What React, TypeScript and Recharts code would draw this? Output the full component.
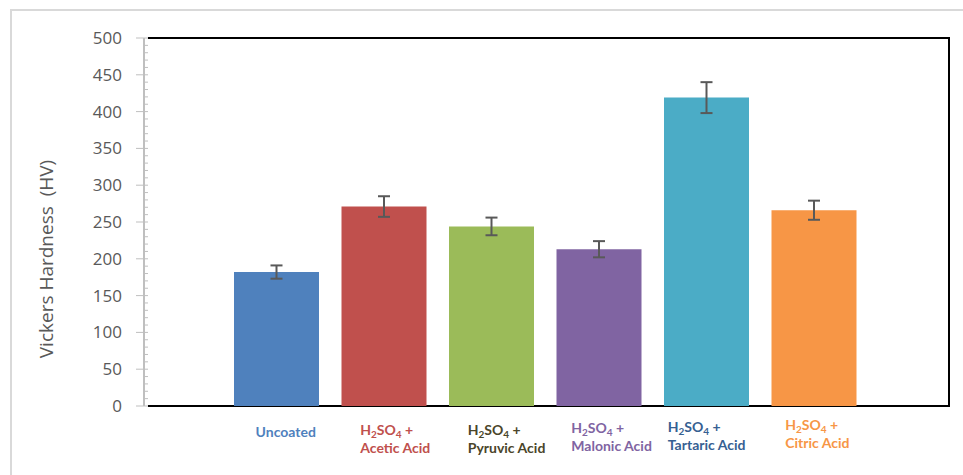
import React from 'react';
import { BarChart, Bar, XAxis, YAxis, Cell, ErrorBar, ReferenceArea } from 'recharts';

const categories = ['Uncoated', 'Acetic Acid', 'Pyruvic Acid', 'Malonic Acid', 'Tartaric Acid', 'Citric Acid'];
const hardness = [182, 271, 244, 213, 419, 266];
const hardnessErr = [9, 14, 12, 11, 21, 13];
const barColors = ['#4f81bd', '#c0504d', '#9bbb59', '#8064a2', '#4bacc6', '#f79646'];
const labelColors = ['#4f81bd', '#c0504d', '#4a452a', '#8064a2', '#366092', '#f79646'];

// minor ticks every 10 HV, labels every 50
const minorTicks: number[] = [];
for (let v = 0; v <= 500; v += 10) minorTicks.push(v);

const data = categories.map((name, i) => ({
  name,
  hv: hardness[i],
  err: hardnessErr[i],
}));

const AXIS_X = 144;
const PAD_L = 79;
const PAD_R = 81;
// shift of each label block relative to bar center (Excel-ish placement)
const labelShift = [9, -24, -24, -28, -39, -29];
const labelBase = [437, 435, 435, 433, 432, 430];

const YTick = (props: any) => {
  const { y, payload } = props;
  const v = payload.value;
  const major = v % 50 === 0;
  return (
    <g>
      <line
        x1={major ? AXIS_X - 8 : AXIS_X}
        x2={AXIS_X + 4}
        y1={y}
        y2={y}
        stroke="#bfbfbf"
        strokeWidth={1}
      />
      {major && (
        <text x={122} y={y + 6} textAnchor="end" fill="#595959" fontSize={17} fontFamily="'Open Sans', sans-serif">
          {v}
        </text>
      )}
    </g>
  );
};

const XTick = (props: any) => {
  const { x, payload } = props;
  const i = payload.index;
  const color = labelColors[i];
  const font = { fontFamily: 'Lato, sans-serif', fontWeight: 700, fontSize: 14, fill: color };
  if (i === 0) {
    return (
      <text x={x + labelShift[0]} y={labelBase[0]} textAnchor="middle" {...font}>
        {payload.value}
      </text>
    );
  }
  const sx = x + labelShift[i];
  const base = labelBase[i];
  return (
    <g>
      <text x={sx} y={base} textAnchor="start" {...font}>
        H<tspan fontSize={10} dy={3}>2</tspan>
        <tspan dy={-3}>SO</tspan>
        <tspan fontSize={10} dy={3}>4</tspan>
        <tspan dy={-3}> +</tspan>
      </text>
      <text x={sx} y={base + 18} textAnchor="start" {...font}>
        {payload.value}
      </text>
    </g>
  );
};

// black box round the plot area (left side is the grey value axis)
const PlotFrame = (props: any) => {
  const { x, y, width, height } = props;
  const left = x - PAD_L + 4;
  const right = x + width + PAD_R;
  return (
    <path
      d={`M${left},${y} L${right},${y} L${right},${y + height} L${left},${y + height}`}
      fill="none"
      stroke="#000"
      strokeWidth={2}
    />
  );
};

export default function App() {
  return (
    <div style={{ position: 'absolute', left: 0, top: 0, width: 963, height: 475, background: '#fff' }}>
      <div
        style={{
          position: 'absolute',
          left: 10,
          top: 9,
          width: 953,
          height: 466,
          borderTop: '2px solid #d9d9d9',
          borderLeft: '2px solid #d9d9d9',
        }}
      />
      <div style={{ position: 'absolute', left: 0, top: 0 }}>
        <BarChart
          width={963}
          height={475}
          data={data}
          margin={{ top: 38, right: 14, bottom: 0, left: 0 }}
          barSize={85}
        >
          <ReferenceArea y1={0} y2={500} ifOverflow="visible" shape={<PlotFrame />} />
          <XAxis
            dataKey="name"
            axisLine={false}
            tickLine={false}
            interval={0}
            height={69}
            padding={{ left: PAD_L, right: PAD_R }}
            tick={<XTick />}
          />
          <YAxis
            width={AXIS_X}
            domain={[0, 500]}
            ticks={minorTicks}
            interval={0}
            tickLine={false}
            axisLine={{ stroke: '#bfbfbf', strokeWidth: 2 }}
            tick={<YTick />}
            label={{
              content: () => (
                <text
                  x={53}
                  y={259}
                  transform="rotate(-90 53 259)"
                  textAnchor="middle"
                  fill="#595959"
                  fontSize={19}
                  fontFamily="'Open Sans', sans-serif"
                  style={{ whiteSpace: 'pre' }}
                >
                  {'Vickers Hardness  (HV)'}
                </text>
              ),
            }}
          />
          <Bar dataKey="hv" isAnimationActive={false}>
            {data.map((d, i) => (
              <Cell key={d.name} fill={barColors[i]} />
            ))}
            <ErrorBar dataKey="err" stroke="#595959" strokeWidth={2} width={6} />
          </Bar>
        </BarChart>
      </div>
    </div>
  );
}
